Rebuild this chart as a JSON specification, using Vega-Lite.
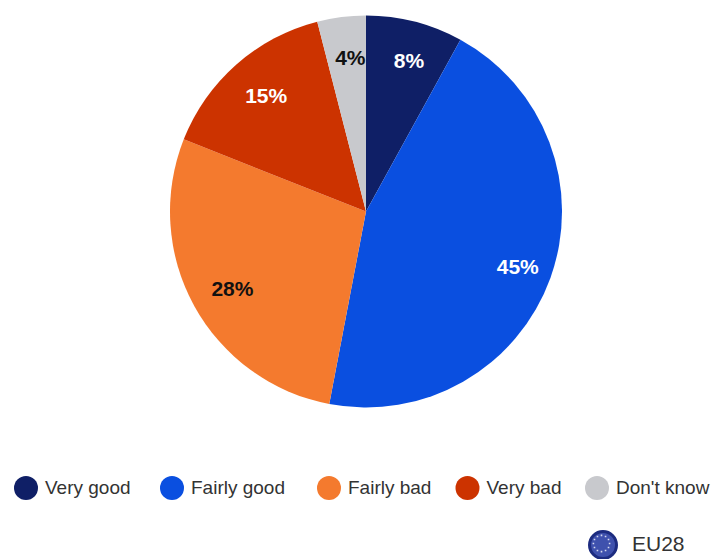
{
  "$schema": "https://vega.github.io/schema/vega-lite/v6.json",
  "width": 690,
  "height": 423,
  "autosize": "none",
  "padding": {"left": 21, "top": 0, "right": 0, "bottom": 136},
  "background": "white",
  "config": {
    "view": {"stroke": null},
    "legend": {
      "orient": "none",
      "title": null,
      "direction": "horizontal",
      "symbolStrokeWidth": 0,
      "labelFont": "Liberation Sans",
      "labelFontSize": 19,
      "labelColor": "#333333",
      "labelLimit": 200,
      "labelOffset": 7
    }
  },
  "data": {"values": [
    {"answer": "Very good", "share": 8, "rank": 1},
    {"answer": "Fairly good", "share": 45, "rank": 2},
    {"answer": "Fairly bad", "share": 28, "rank": 3},
    {"answer": "Very bad", "share": 15, "rank": 4},
    {"answer": "Don't know", "share": 4, "rank": 5}
  ]},
  "resolve": {"scale": {"color": "independent", "theta": "shared"}},
  "layer": [
    {
      "mark": {"type": "arc", "outerRadius": 196},
      "encoding": {
        "theta": {"field": "share", "type": "quantitative", "stack": true},
        "order": {"field": "rank", "type": "ordinal"},
        "color": {
          "field": "answer",
          "type": "nominal",
          "scale": {
            "domain": ["Very good", "Fairly good", "Fairly bad", "Very bad", "Don't know"],
            "range": ["#0f1f66", "#0a4fe0", "#f47a2e", "#cc3300", "#c8c9cd"]
          },
          "legend": null
        }
      }
    },
    {
      "mark": {"type": "text", "radius": 157, "dx": 4, "dy": 3, "font": "Liberation Sans", "fontWeight": "bold", "fontSize": 21},
      "transform": [{"calculate": "datum.share + '%'", "as": "label"}],
      "encoding": {
        "theta": {"field": "share", "type": "quantitative", "stack": true},
        "order": {"field": "rank", "type": "ordinal"},
        "text": {"field": "label"},
        "color": {
          "condition": {"test": "datum.answer === 'Fairly bad' || datum.answer === \"Don't know\"", "value": "#111111"},
          "value": "white"
        }
      }
    },
    {
      "description": "Legend group: Very good",
      "mark": {"type": "arc", "outerRadius": 0},
      "encoding": {
        "theta": {"field": "share", "type": "quantitative", "stack": true},
        "color": {
          "field": "answer",
          "type": "nominal",
          "scale": {"domain": ["Very good"], "range": ["#0f1f66"]},
          "legend": {"legendX": -7, "legendY": 476, "symbolType": "circle", "symbolSize": 576}
        }
      }
    },
    {
      "description": "Legend group: Fairly good",
      "mark": {"type": "arc", "outerRadius": 0},
      "encoding": {
        "theta": {"field": "share", "type": "quantitative", "stack": true},
        "color": {
          "field": "answer",
          "type": "nominal",
          "scale": {"domain": ["Fairly good"], "range": ["#0a4fe0"]},
          "legend": {"legendX": 139, "legendY": 476, "symbolType": "circle", "symbolSize": 576}
        }
      }
    },
    {
      "description": "Legend group: Fairly bad, Very bad, Don't know",
      "mark": {"type": "arc", "outerRadius": 0},
      "encoding": {
        "theta": {"field": "share", "type": "quantitative", "stack": true},
        "color": {
          "field": "answer",
          "type": "nominal",
          "scale": {"domain": ["Fairly bad", "Very bad", "Don't know"], "range": ["#f47a2e", "#cc3300", "#c8c9cd"]},
          "legend": {"legendX": 296, "legendY": 476, "columns": 3, "gridAlign": "none", "columnPadding": 23.5, "symbolType": "circle", "symbolSize": 576}
        }
      }
    },
    {
      "data": {"values": [{"region": "EU28", "share": 0}]},
      "mark": {"type": "arc", "outerRadius": 0},
      "encoding": {
        "theta": {"field": "share", "type": "quantitative"},
        "color": {
          "field": "region",
          "type": "nominal",
          "scale": {"domain": ["EU28"], "range": ["#3f51ad"]},
          "legend": {
            "legendX": 567,
            "legendY": 530,
            "symbolType": "circle",
            "symbolSize": 729,
            "symbolStrokeColor": "#1d2c80",
            "symbolStrokeWidth": 3,
            "labelFontSize": 21,
            "labelOffset": 14
          }
        }
      }
    },
    {
      "description": "Ring of twelve stars on the EU flag badge",
      "data": {"values": [{"badge": "stars", "share": 0}]},
      "mark": {"type": "arc", "outerRadius": 0},
      "encoding": {
        "theta": {"field": "share", "type": "quantitative"},
        "color": {
          "field": "badge",
          "type": "nominal",
          "scale": {"domain": ["stars"], "range": ["#d5d9ee"]},
          "legend": {
            "legendX": 567,
            "legendY": 530,
            "symbolType": "M-.06-.66h.12v.12h-.12zM.24-.58h.12v.12h-.12zM.46-.36h.12v.12h-.12zM.54-.06h.12v.12h-.12zM.46.24h.12v.12h-.12zM.24.46h.12v.12h-.12zM-.06.54h.12v.12h-.12zM-.36.46h.12v.12h-.12zM-.58.24h.12v.12h-.12zM-.66-.06h.12v.12h-.12zM-.58-.36h.12v.12h-.12zM-.36-.58h.12v.12h-.12z",
            "symbolSize": 729,
            "labelExpr": "''",
            "labelFontSize": 21,
            "labelOffset": 14
          }
        }
      }
    }
  ]
}
